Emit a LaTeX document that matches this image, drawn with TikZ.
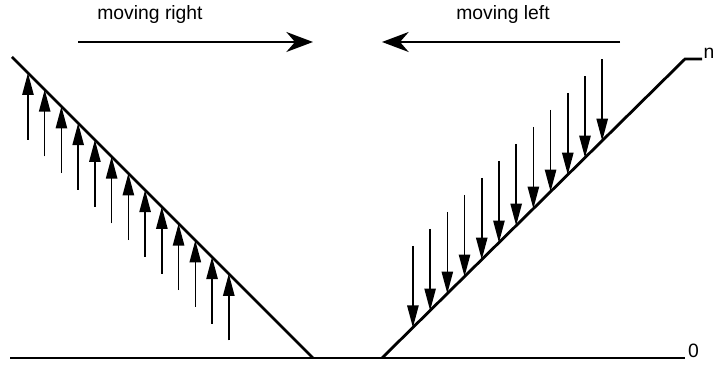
\documentclass[tikz,border=0pt]{standalone}
\usepackage{fontspec}
\setmainfont{Liberation Sans}
\usepackage{tikz}
\usetikzlibrary{arrows.meta,positioning,calc}

\begin{document}
\begin{tikzpicture}[
    slope/.style={line width=2.4pt},
    base/.style={line width=1.7pt},
    push/.style={-{Triangle[length=0.66cm, width=0.34cm]}, line width=1.3pt},
    move/.style={-{Stealth[length=0.8cm, width=0.6cm, inset=0.26cm]}, line width=1.5pt},
    lbl/.style={font=\fontsize{16.5}{20}\selectfont, inner sep=0pt}
]
\useasboundingbox (0,0) rectangle (21.45,10.98);

% ground line and the two faces
\coordinate (b0) at (0.3,0.24);
\coordinate (b1) at (20.55,0.24);
\coordinate (ltop) at (0.36,9.27);
\coordinate (lbot) at (9.39,0.24);
\coordinate (rbot) at (11.46,0.24);
\coordinate (rtop) at (20.55,9.21);
\coordinate (rend) at (21.06,9.21);

\draw[base] (b0) -- (b1);
\draw[slope] (ltop) -- (lbot);
\draw[slope] (rbot) -- (rtop) -- (rend);

\node[lbl, anchor=base west] (zero) at (20.64,0.24) {0};
\node[lbl, anchor=base west] (top) at (21.1,9.21) {n};

% direction of motion
\node[lbl] (mr) at (4.5,10.53) {moving right};
\node[lbl] (ml) at (15.09,10.53) {moving left};
\coordinate (mr0) at (2.34,9.72);
\coordinate (mr1) at (9.39,9.72);
\coordinate (ml0) at (18.6,9.72);
\coordinate (ml1) at (11.46,9.72);
\draw[move] (mr0) -- (mr1);
\draw[move] (ml0) -- (ml1);

% arrows under the left face
\foreach \i in {0,...,12} {
    \coordinate (tip) at ($(ltop)!{0.053+0.0556*\i}!(lbot)$);
    \draw[push] ($(tip)+(0,-2)$) -- (tip);
}

% arrows over the right face
\foreach \i in {0,...,11} {
    \coordinate (tip) at ($(rbot)!{0.102+0.0568*\i}!(rtop)$);
    \draw[push] ($(tip)+(0,2.45)$) -- (tip);
}
\end{tikzpicture}
\end{document}
